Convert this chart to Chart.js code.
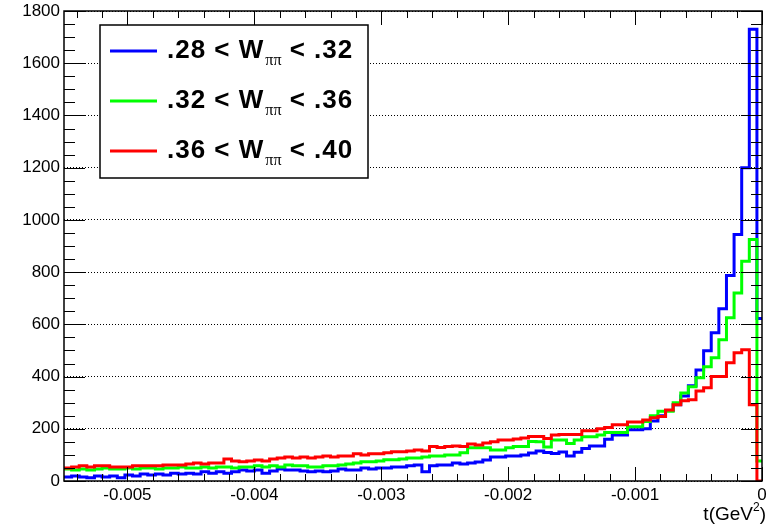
<!DOCTYPE html>
<html>
<head>
<meta charset="utf-8">
<script src="https://cdn.jsdelivr.net/npm/chart.js@4.4.1/dist/chart.umd.min.js"></script>
<style>
  html, body { margin: 0; padding: 0; background: #fff; }
  #wrap { width: 770px; height: 525px; }
</style>
</head>
<body>
<div id="wrap"><canvas id="tChart" width="770" height="525"></canvas></div>
<script>
// ---- histogram binning (t in GeV^2) ----
const T_LOW = -0.0055;    // low edge of first bin
const BIN_W = 0.00006;    // bin width (last bin runs a little past 0)

// ---- axis ranges / ticks ----
const X_MIN = -0.0055, X_MAX = 0, X_STEP = 0.001, X_MINOR = 0.0002;
const Y_MIN = 0, Y_MAX = 1800, Y_STEP = 200, Y_MINOR = 50;

// ---- legend text ----
const wLow  = ['.28', '.32', '.36'];
const wHigh = ['.32', '.36', '.40'];
const COLORS = ['#0000ff', '#00ff00', '#ff0000'];

// ---- counts per bin, left to right ----
const counts028 = [
  15, 19, 15, 12, 19, 15, 19, 12, 23, 19, 27, 23, 27, 23, 30, 27,
  30, 27, 35, 30, 35, 30, 35, 42, 38, 42, 30, 38, 46, 42, 42, 38,
  35, 38, 35, 38, 46, 42, 42, 50, 46, 50, 50, 54, 54, 58, 61, 35,
  58, 61, 61, 69, 65, 69, 73, 80, 92, 92, 96, 96, 100, 107,
  115, 109, 105, 111, 96, 110, 124, 134, 134, 160, 176, 176, 196, 196,
  200, 230, 250, 270, 292, 326, 365, 425, 499, 568, 660, 787, 944, 1200, 1730, 622
];
const counts032 = [
  46, 42, 46, 42, 46, 50, 46, 46, 50, 46, 50, 50, 46, 50, 50, 54,
  50, 50, 54, 50, 54, 54, 50, 54, 54, 58, 54, 58, 54, 61, 58, 58,
  54, 54, 58, 58, 61, 65, 69, 74, 74, 77, 81, 81, 84, 88, 88, 92,
  96, 96, 100, 100, 108, 127, 127, 127, 119, 119, 127, 132, 132, 151,
  150, 130, 157, 157, 144, 157, 169, 169, 176, 186, 186, 186, 208, 208,
  228, 250, 267, 267, 300, 337, 361, 395, 438, 472, 541, 625, 720, 842, 925, 77
];
const counts036 = [
  50, 54, 58, 54, 58, 58, 54, 54, 54, 58, 58, 58, 58, 61, 61, 61,
  65, 69, 65, 69, 69, 84, 77, 74, 77, 80, 77, 84, 88, 92, 88, 92,
  88, 92, 96, 92, 96, 96, 104, 100, 104, 104, 108, 112, 112, 115, 119, 115,
  132, 128, 132, 134, 132, 142, 138, 146, 150, 157, 157, 161, 165, 170,
  170, 163, 176, 178, 178, 178, 192, 192, 200, 205, 215, 215, 226, 226,
  234, 242, 247, 272, 292, 307, 311, 345, 357, 400, 400, 453, 491, 503, 292, 0
];

const FONT = '"Liberation Sans", Arial, Helvetica, sans-serif';

// bins -> step points (left edges + closing right edge)
function toSteps(counts) {
  const pts = counts.map((c, i) => ({ x: T_LOW + i * BIN_W, y: c }));
  pts.push({ x: T_LOW + counts.length * BIN_W, y: counts[counts.length - 1] });
  return pts;
}

function histSet(counts, color, order) {
  return {
    data: toSteps(counts),
    borderColor: color,
    borderWidth: 3,
    stepped: 'before',
    pointRadius: 0,
    fill: false,
    tension: 0,
    order: order
  };
}

// ---- ROOT style frame with inward ticks, legend, axis title ----
const rootDecor = {
  id: 'rootDecor',
  afterDatasetsDraw(chart) {
    const { ctx, chartArea: a, scales: { x, y } } = chart;
    ctx.save();
    ctx.strokeStyle = '#000';
    ctx.lineWidth = 1;
    ctx.beginPath();
    for (let n = Math.round(Y_MIN / Y_MINOR); n <= Math.round(Y_MAX / Y_MINOR); n++) {
      const py = Math.round(y.getPixelForValue(n * Y_MINOR)) + 0.5;
      const len = (n * Y_MINOR) % Y_STEP === 0 ? 21 : 11;
      ctx.moveTo(a.left, py); ctx.lineTo(a.left + len, py);
      ctx.moveTo(a.right, py); ctx.lineTo(a.right - len, py);
    }
    for (let n = Math.ceil(X_MIN / X_MINOR - 1e-6); n <= Math.round(X_MAX / X_MINOR); n++) {
      const px = Math.round(x.getPixelForValue(n * X_MINOR)) + 0.5;
      const len = n % 5 === 0 ? 14 : 7;
      ctx.moveTo(px, a.bottom); ctx.lineTo(px, a.bottom - len);
      ctx.moveTo(px, a.top); ctx.lineTo(px, a.top + len);
    }
    ctx.stroke();
    ctx.lineWidth = 1.5;
    ctx.strokeRect(a.left, a.top, a.right - a.left, a.bottom - a.top);
    ctx.restore();
  },
  afterDraw(chart) {
    const { ctx } = chart;
    ctx.save();

    // legend box
    ctx.fillStyle = '#fff';
    ctx.fillRect(100, 25, 268, 153);
    ctx.strokeStyle = '#000';
    ctx.lineWidth = 1.5;
    ctx.strokeRect(100, 25, 268, 153);

    wLow.forEach((lo, i) => {
      const ly = 51 + 50 * i;
      ctx.strokeStyle = COLORS[i];
      ctx.lineWidth = 3;
      ctx.beginPath();
      ctx.moveTo(110, ly); ctx.lineTo(157, ly);
      ctx.stroke();

      const base = ly + 7;
      ctx.fillStyle = '#000';
      ctx.textBaseline = 'alphabetic';
      ctx.textAlign = 'left';
      ctx.font = 'bold 26px ' + FONT;
      ctx.letterSpacing = '1px';
      let tx = 167;
      const t1 = lo + ' < W';
      ctx.fillText(t1, tx, base);
      tx += ctx.measureText(t1).width;
      ctx.letterSpacing = '0px';
      ctx.font = '16px "Liberation Serif", "DejaVu Serif", serif';
      ctx.fillText('ππ', tx + 1, base + 7);
      tx += ctx.measureText('ππ').width + 1;
      ctx.font = 'bold 26px ' + FONT;
      ctx.letterSpacing = '1px';
      ctx.fillText(' < ' + wHigh[i], tx, base);
      ctx.letterSpacing = '0px';
    });

    // x axis title t(GeV^2), right aligned
    ctx.fillStyle = '#000';
    ctx.textBaseline = 'alphabetic';
    ctx.textAlign = 'left';
    const mainF = '19px ' + FONT, supF = '12px ' + FONT;
    ctx.font = mainF; const w1 = ctx.measureText('t(GeV').width, w3 = ctx.measureText(')').width;
    ctx.font = supF;  const w2 = ctx.measureText('2').width;
    let sx = 766 - (w1 + w2 + w3);
    const by = 520;
    ctx.font = mainF; ctx.fillText('t(GeV', sx, by); sx += w1;
    ctx.font = supF;  ctx.fillText('2', sx, by - 9); sx += w2;
    ctx.font = mainF; ctx.fillText(')', sx, by);
    ctx.restore();
  }
};

function noPad(s) {
  s.paddingTop = 0; s.paddingBottom = 0; s.paddingLeft = 0; s.paddingRight = 0;
}

new Chart(document.getElementById('tChart'), {
  type: 'line',
  data: {
    datasets: [
      histSet(counts028, COLORS[0], 3),
      histSet(counts032, COLORS[1], 2),
      histSet(counts036, COLORS[2], 1)
    ]
  },
  options: {
    responsive: false,
    devicePixelRatio: 1,
    animation: false,
    layout: { padding: { top: 11, right: 8, left: 0, bottom: 0 } },
    plugins: { legend: { display: false }, tooltip: { enabled: false } },
    scales: {
      x: {
        type: 'linear',
        min: X_MIN,
        max: X_MAX,
        grid: { display: false, drawTicks: false },
        border: { display: false },
        ticks: {
          stepSize: X_STEP,
          includeBounds: false,
          padding: 4,
          color: '#000',
          font: { family: FONT, size: 17 },
          maxRotation: 0,
          autoSkip: false,
          callback: v => Math.abs(v) < 1e-9 ? '0' : v.toFixed(3)
        },
        afterFit: s => { s.height = 44; noPad(s); }
      },
      y: {
        min: Y_MIN,
        max: Y_MAX,
        grid: { color: '#000', lineWidth: 1, drawTicks: false },
        border: { display: false, dash: [1, 2] },
        ticks: {
          stepSize: Y_STEP,
          padding: 4,
          color: '#000',
          font: { family: FONT, size: 17 },
          autoSkip: false,
          callback: v => String(v)
        },
        afterFit: s => { s.width = 64; noPad(s); }
      }
    }
  },
  plugins: [rootDecor]
});
</script>
</body>
</html>
